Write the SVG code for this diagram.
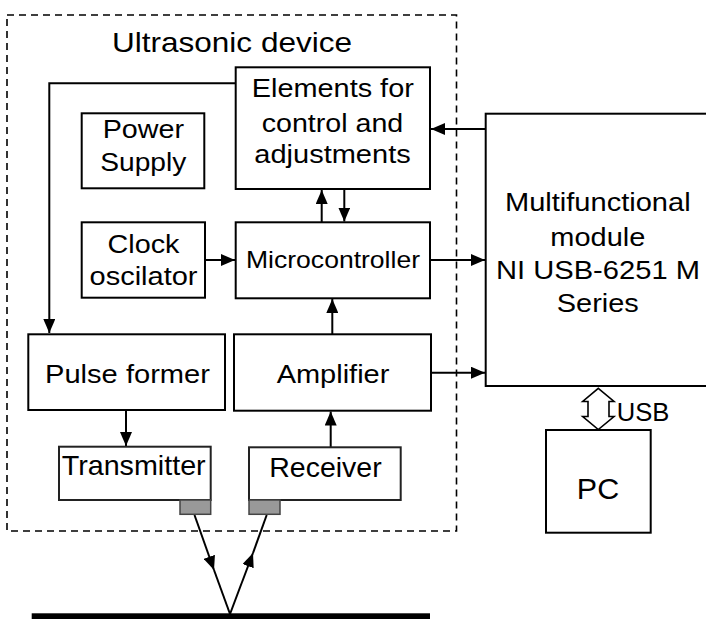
<svg xmlns="http://www.w3.org/2000/svg" width="706" height="619" viewBox="0 0 706 619">
<style>
.box{fill:#fff;stroke:#000;stroke-width:2}
.sbox{fill:#fff;stroke:#222;stroke-width:2}
.tr{fill:#999;stroke:#444;stroke-width:1.5}
.t{font-family:"Liberation Sans",Arial,sans-serif;font-size:26px;fill:#000;text-anchor:middle}
.c{fill:none;stroke:#000;stroke-width:2}
</style>
<defs>
<marker id="ah" markerUnits="userSpaceOnUse" markerWidth="14" markerHeight="12" refX="14" refY="6" orient="auto">
<path d="M0,0 L14,6 L0,12 z" fill="#000"/>
</marker>
</defs>
<rect id="device-frame" x="7" y="15" width="449.5" height="516" fill="none" stroke="#000" stroke-width="1.6" stroke-dasharray="7,5"/>
<text class="t" x="232" y="52" style="font-size:28px" textLength="240" lengthAdjust="spacingAndGlyphs">Ultrasonic device</text>

<g id="connectors">
<polyline class="c" points="236,83.3 49.3,83.3 49.3,333" marker-end="url(#ah)"/>
<line class="c" x1="485.7" y1="129" x2="431" y2="129" marker-end="url(#ah)"/>
<line class="c" x1="321.7" y1="222" x2="321.7" y2="190" marker-end="url(#ah)"/>
<line class="c" x1="344.3" y1="189" x2="344.3" y2="221.5" marker-end="url(#ah)"/>
<line class="c" x1="205" y1="260" x2="235" y2="260" marker-end="url(#ah)"/>
<line class="c" x1="430" y1="260" x2="485" y2="260" marker-end="url(#ah)"/>
<line class="c" x1="332.3" y1="334" x2="332.3" y2="299" marker-end="url(#ah)"/>
<line class="c" x1="431" y1="372.7" x2="485" y2="372.7" marker-end="url(#ah)"/>
<line class="c" x1="126" y1="410" x2="126" y2="446" marker-end="url(#ah)"/>
<line class="c" x1="330.7" y1="447" x2="330.7" y2="411.5" marker-end="url(#ah)"/>
<line class="c" x1="194.5" y1="515" x2="214" y2="570" marker-end="url(#ah)"/>
<line class="c" x1="214" y1="570" x2="230" y2="614"/>
<line class="c" x1="230" y1="614" x2="253" y2="553" marker-end="url(#ah)"/>
<line class="c" x1="253" y1="553" x2="266.7" y2="515"/>
<polygon id="usb-link" points="598.3,388.3 614,401.5 609,401.5 609,416.5 614,416.5 598.3,429.5 582.7,416.5 588,416.5 588,401.5 582.7,401.5" fill="#fff" stroke="#000" stroke-width="1.6"/>
<text class="t" x="643" y="420.7" style="font-size:25px" textLength="52.6" lengthAdjust="spacingAndGlyphs">USB</text>
</g>

<g id="elements">
<rect class="box" x="235.7" y="67.3" width="194.3" height="121.7"/>
<text class="t" x="332.8" y="96.7" textLength="162" lengthAdjust="spacingAndGlyphs">Elements for</text>
<text class="t" x="332.5" y="131.7" textLength="141.6" lengthAdjust="spacingAndGlyphs">control and</text>
<text class="t" x="332.5" y="163.3" textLength="156.4" lengthAdjust="spacingAndGlyphs">adjustments</text>
</g>

<g id="power-supply">
<rect class="box" x="81.7" y="113.3" width="122.6" height="75"/>
<text class="t" x="143.3" y="137.8" textLength="81.3" lengthAdjust="spacingAndGlyphs">Power</text>
<text class="t" x="143.3" y="170.5" textLength="86" lengthAdjust="spacingAndGlyphs">Supply</text>
</g>

<g id="clock">
<rect class="box" x="81.7" y="222.3" width="123.3" height="75.4"/>
<text class="t" x="143.5" y="253.3" textLength="72" lengthAdjust="spacingAndGlyphs">Clock</text>
<text class="t" x="143.5" y="285" textLength="108" lengthAdjust="spacingAndGlyphs">oscilator</text>
</g>

<g id="microcontroller">
<rect class="box" x="235.7" y="222.3" width="194.3" height="76"/>
<text class="t" x="333" y="268.3" style="font-size:24px" textLength="174" lengthAdjust="spacingAndGlyphs">Microcontroller</text>
</g>

<g id="module">
<rect class="box" x="485.7" y="113.7" width="230" height="272.3"/>
<text class="t" x="597.8" y="211" textLength="185.7" lengthAdjust="spacingAndGlyphs">Multifunctional</text>
<text class="t" x="597.8" y="246" textLength="95" lengthAdjust="spacingAndGlyphs">module</text>
<text class="t" x="598" y="279" textLength="204" lengthAdjust="spacingAndGlyphs">NI USB-6251 M</text>
<text class="t" x="597.8" y="312" textLength="82" lengthAdjust="spacingAndGlyphs">Series</text>
</g>

<g id="pulse-former">
<rect class="box" x="28.3" y="334.3" width="196.7" height="75.7"/>
<text class="t" x="127.5" y="383.3" textLength="165" lengthAdjust="spacingAndGlyphs">Pulse former</text>
</g>

<g id="amplifier">
<rect class="box" x="234" y="334.3" width="197" height="76.4"/>
<text class="t" x="333" y="383.3" textLength="112.7" lengthAdjust="spacingAndGlyphs">Amplifier</text>
</g>

<g id="transmitter">
<rect class="sbox" x="59" y="446.7" width="151.7" height="53.3"/>
<text class="t" x="133.7" y="475" style="font-size:28px" textLength="144" lengthAdjust="spacingAndGlyphs">Transmitter</text>
<rect class="tr" x="180" y="500" width="30.7" height="14.3"/>
</g>

<g id="receiver">
<rect class="sbox" x="249" y="447.3" width="151.7" height="52.7"/>
<text class="t" x="325.5" y="477.3" style="font-size:27px" textLength="112.4" lengthAdjust="spacingAndGlyphs">Receiver</text>
<rect class="tr" x="249" y="500" width="31" height="14.3"/>
</g>

<g id="pc">
<rect class="box" x="546" y="430" width="104.7" height="102.7"/>
<text class="t" x="598" y="499.3" style="font-size:30px" textLength="42.3" lengthAdjust="spacingAndGlyphs">PC</text>
</g>

<rect id="reflector" x="31.7" y="613.3" width="398.3" height="6" fill="#000"/>
</svg>
